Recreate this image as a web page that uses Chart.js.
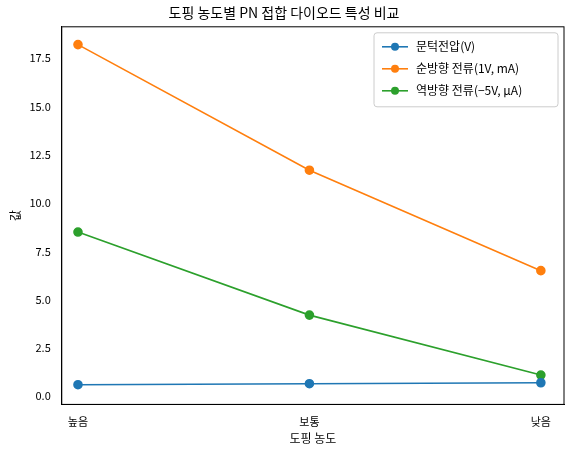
<!DOCTYPE html>
<html><head><meta charset="utf-8">
<script src="https://cdn.jsdelivr.net/npm/chart.js@4"></script>
<style>body{margin:0;background:#fff}#w{width:572px;height:454px}</style>
</head><body><div id="w"><canvas id="c"></canvas></div>
<script>
const categories = ['높음','보통','낮음'];
const thresholdV = [0.6, 0.65, 0.7];
const forwardI = [18.2, 11.7, 6.5];
const reverseI = [8.5, 4.2, 1.1];
const yTicks = [0,2.5,5,7.5,10,12.5,15,17.5];
const F = "'Noto Sans CJK KR','DejaVu Sans',sans-serif";
const mk = (label, data, color) => ({label, data: data.map((v,i)=>({x:i,y:v})), borderColor:color, backgroundColor:color, pointRadius:4, pointHoverRadius:4, borderWidth:1.6, tension:0});
new Chart(document.getElementById('c'), {
  type:'line',
  data:{datasets:[mk('문턱전압(V)',thresholdV,'#1f77b4'),mk('순방향 전류(1V, mA)',forwardI,'#ff7f0e'),mk('역방향 전류(−5V, μA)',reverseI,'#2ca02c')]},
  options:{responsive:true,maintainAspectRatio:false,animation:false,
    layout:{padding:{left:4,right:8,top:0,bottom:4}},
    plugins:{
      title:{display:true,text:'도핑 농도별 PN 접합 다이오드 특성 비교',color:'#000',font:{family:F,size:14,weight:'normal'},padding:{top:4,bottom:6}},
      legend:{position:'chart',display:false},
      tooltip:{enabled:false}
    },
    scales:{
      x:{type:'linear',min:-0.07,max:2.1,grid:{display:false},border:{color:'#000'},
        afterBuildTicks:a=>{a.ticks=categories.map((_,i)=>({value:i}));},
        ticks:{color:'#000',font:{family:F,size:11},callback:v=>categories[v]},
        title:{display:true,text:'도핑 농도',color:'#000',font:{family:F,size:12},padding:{top:0}}},
      y:{min:-0.42,max:19.12,grid:{display:false},border:{color:'#000'},
        afterBuildTicks:a=>{a.ticks=yTicks.map(v=>({value:v}));},
        ticks:{color:'#000',font:{family:F,size:11},callback:v=>v.toFixed(1)},
        title:{display:true,text:'값',color:'#000',font:{family:F,size:12}}}
    }
  },
  plugins:[{id:'box',afterDraw(ch){const {ctx,chartArea:a}=ch;ctx.save();ctx.strokeStyle='#000';ctx.lineWidth=1;ctx.strokeRect(a.left,a.top,a.right-a.left,a.bottom-a.top);
    // legend
    const x0=a.right-190,y0=a.top+6,w=184,h=74;
    ctx.fillStyle='rgba(255,255,255,0.8)';ctx.strokeStyle='#ccc';ctx.beginPath();ctx.roundRect(x0,y0,w,h,3);ctx.fill();ctx.stroke();
    ch.data.datasets.forEach((d,i)=>{const yy=y0+14+i*22;ctx.strokeStyle=d.borderColor;ctx.lineWidth=1.6;ctx.beginPath();ctx.moveTo(x0+8,yy);ctx.lineTo(x0+34,yy);ctx.stroke();
      ctx.fillStyle=d.borderColor;ctx.beginPath();ctx.arc(x0+21,yy,4,0,Math.PI*2);ctx.fill();
      ctx.fillStyle='#000';ctx.font='12px '+F;ctx.textBaseline='middle';ctx.fillText(d.label,x0+42,yy);});
    ctx.restore();}}]
});
</script></body></html>
